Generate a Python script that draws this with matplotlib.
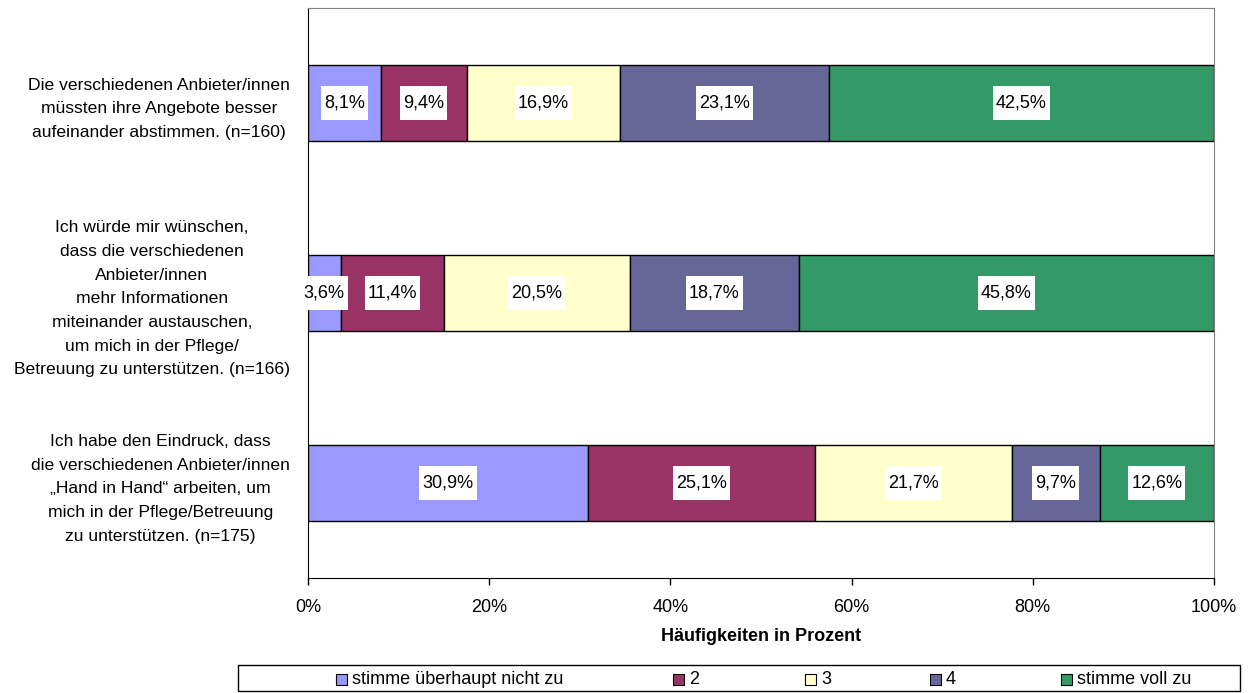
import matplotlib.pyplot as plt
from matplotlib.patches import Rectangle

plt.rcParams['font.family'] = ['Liberation Sans', 'DejaVu Sans']

# Aussagen (von oben nach unten)
statements = [
    "Die verschiedenen Anbieter/innen\nmüssten ihre Angebote besser\naufeinander abstimmen. (n=160)",
    "Ich würde mir wünschen,\ndass die verschiedenen\nAnbieter/innen\nmehr Informationen\nmiteinander austauschen,\num mich in der Pflege/\nBetreuung zu unterstützen. (n=166)",
    "Ich habe den Eindruck, dass\ndie verschiedenen Anbieter/innen\n„Hand in Hand“ arbeiten, um\nmich in der Pflege/Betreuung\nzu unterstützen. (n=175)",
]
categories = ["stimme überhaupt nicht zu", "2", "3", "4", "stimme voll zu"]
colors = ["#9999FF", "#993366", "#FFFFCC", "#666699", "#339966"]

# Anteile je Antwortkategorie in Prozent
val_1 = [8.1, 9.4, 16.9, 23.1, 42.5]
val_2 = [3.6, 11.4, 20.5, 18.7, 45.8]
val_3 = [30.9, 25.1, 21.7, 9.7, 12.6]
values = [val_1, val_2, val_3]

FS = 13
W, H = 1248, 693

fig = plt.figure(figsize=(W / 100, H / 100), dpi=100)
ax = fig.add_axes([308 / W, 1 - 578 / H, (1214 - 308) / W, (578 - 8) / H])

labels = []
for i, row in enumerate(values):
    left = 0
    for j, v in enumerate(row):
        ax.barh(i, v, left=left, height=0.4, color=colors[j],
                edgecolor="black", linewidth=1.0, zorder=2)
        t = ax.text(left + v / 2, i, f"{v:.1f}%".replace(".", ","),
                    ha="center", va="center", fontsize=FS, zorder=4)
        labels.append(t)
        left += v

ax.set_xlim(0, 100)
ax.set_ylim(2.5, -0.5)
ax.set_xticks(range(0, 101, 20))
ax.set_xticklabels([f"{t}%" for t in range(0, 101, 20)], fontsize=FS)
ax.tick_params(axis="x", direction="out", length=5, width=1, pad=10)
ax.set_yticks([0, 1, 2])
ax.set_yticklabels(statements, fontsize=12.6, multialignment="center")
ax.tick_params(axis="y", length=0, pad=13)
for lbl in ax.get_yticklabels():
    lbl.set_linespacing(1.72)

ax.set_xlabel("Häufigkeiten in Prozent", fontsize=FS, fontweight="bold",
              labelpad=9)

for s in ["top", "right"]:
    ax.spines[s].set_color("#808080")
for s in ["left", "bottom"]:
    ax.spines[s].set_color("black")

# weiße Kästen hinter den Prozentwerten (breiter Rand oben/unten)
fig.canvas.draw()
renderer = fig.canvas.get_renderer()
inv = ax.transData.inverted()
for t in labels:
    bb = t.get_window_extent(renderer)
    cx, cy = (bb.x0 + bb.x1) / 2, (bb.y0 + bb.y1) / 2
    w, h = bb.width + 6, 34
    (x0, y0), (x1, y1) = inv.transform([(cx - w / 2, cy - h / 2),
                                        (cx + w / 2, cy + h / 2)])
    ax.add_patch(Rectangle((x0, y0), x1 - x0, y1 - y0, facecolor="white",
                           edgecolor="none", zorder=3))

# Legende unten als Kasten
box = Rectangle((238 / W, 1 - 691 / H), (1240 - 238) / W, 26 / H,
                transform=fig.transFigure, facecolor="white",
                edgecolor="black", linewidth=1.0)
fig.add_artist(box)
leg_x = [336, 673, 805, 930, 1061]
for x, lab, c in zip(leg_x, categories, colors):
    yc = 1 - 679 / H
    sq = Rectangle((x / W, yc - 5.5 / H), 11 / W, 11 / H,
                   transform=fig.transFigure, facecolor=c,
                   edgecolor="black", linewidth=0.8)
    fig.add_artist(sq)
    fig.text((x + 16) / W, yc, lab, ha="left", va="center", fontsize=FS)

fig.savefig("out.png", dpi=100)
